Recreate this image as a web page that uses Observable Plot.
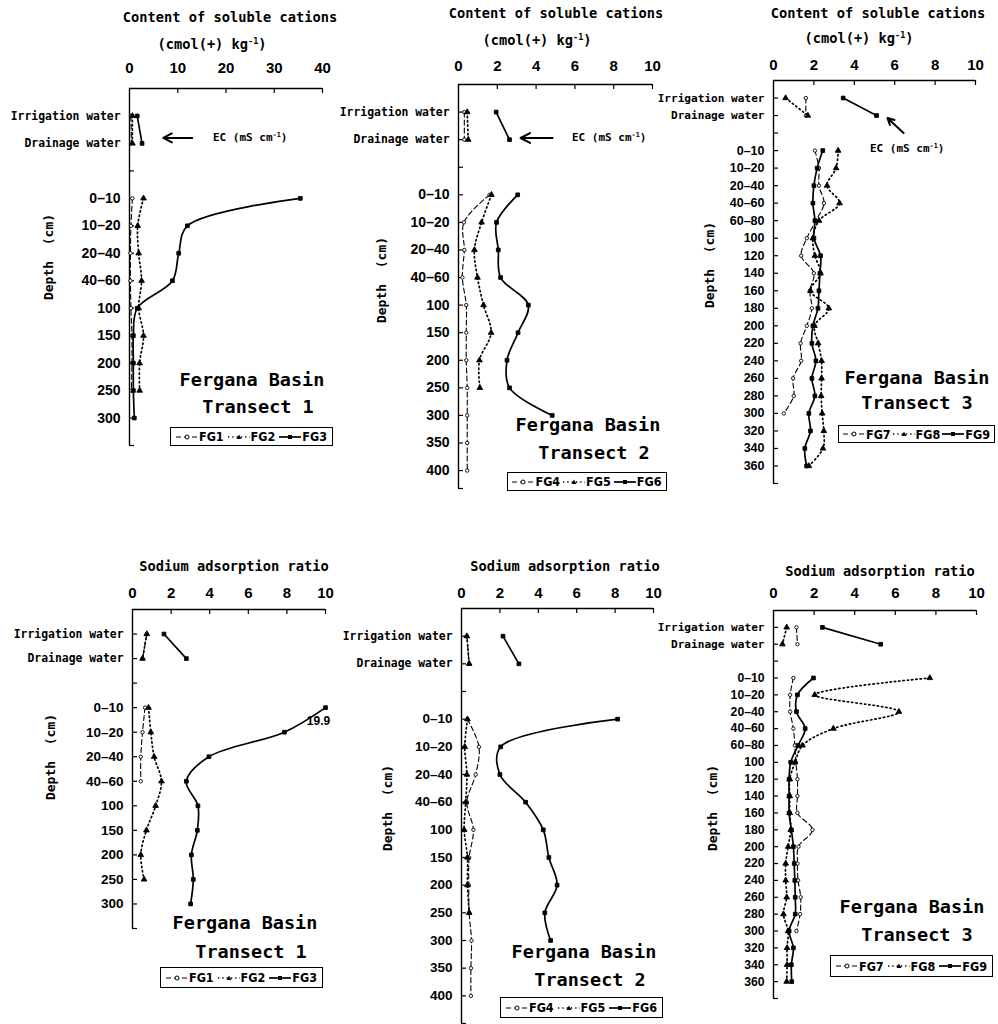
<!DOCTYPE html>
<html><head><meta charset="utf-8">
<script src="https://cdn.jsdelivr.net/npm/d3@7"></script>
<script src="https://cdn.jsdelivr.net/npm/@observablehq/plot@0.6"></script>
<style>
html,body{margin:0;padding:0;background:#fff;}
#page{position:relative;width:998px;height:1024px;overflow:hidden;background:#fff;color:#000;}
.t{position:absolute;white-space:nowrap;font-weight:bold;line-height:1;}
.t sup{font-size:0.62em;vertical-align:0;position:relative;top:-0.55em;}
.plotbox{position:absolute;}
.legend{position:absolute;box-sizing:border-box;border:1px solid #000;display:flex;align-items:center;justify-content:space-around;font-weight:bold;font-family:"DejaVu Sans Condensed","DejaVu Sans",sans-serif;font-size:12.5px;padding:0 3px;background:#fff;}
.legend span{display:flex;align-items:center;}
</style>
</head><body><div id="page"></div>
<script>
// ---------------- categories & tick labels ----------------
const waterRows = ["Irrigation water", "Drainage water"];
const depthT1 = ["0–10","10–20","20–40","40–60","100","150","200","250","300"];
const depthT2 = ["0–10","10–20","20–40","40–60","100","150","200","250","300","350","400"];
const depthT3 = ["0–10","10–20","20–40","40–60","60–80","100","120","140","160","180","200","220","240","260","280","300","320","340","360"];
const ticksT1Cations = [0,10,20,30,40];
const ticks0to10 = [0,2,4,6,8,10];

// ---------------- Content of soluble cations (cmol(+) kg-1); water rows = EC (mS cm-1) ----------------
// Transect 1
const catWaterFG1 = [0.3, 0.4];
const catWaterFG2 = [0.6, 0.6];
const catWaterFG3 = [1.6, 2.6];
const catFG1 = [0.6, 0.3, 0.2, 0.2, 0.3, 0.5, 0.5, 0.4, null];
const catFG2 = [2.9, 1.7, 1.9, 2.5, 1.9, 2.9, 2.1, 2.1, null];
const catFG3 = [35.4, 12.0, 10.2, 8.9, 1.6, 0.8, 0.8, 0.8, 1.0];
// Transect 2
const catWaterFG4 = [0.3, 0.3];
const catWaterFG5 = [0.45, 0.5];
const catWaterFG6 = [1.94, 2.63];
const catFG4 = [1.6, 0.28, 0.3, 0.2, 0.4, 0.4, 0.4, 0.45, 0.45, 0.45, 0.45];
const catFG5 = [1.7, 1.19, 0.82, 0.98, 1.29, 1.68, 1.08, 1.1, null, null, null];
const catFG6 = [3.05, 1.96, 2.05, 2.17, 3.6, 3.07, 2.5, 2.63, 4.83, null, null];
// Transect 3
const catWaterFG7 = [1.6, 1.6];
const catWaterFG8 = [0.6, 1.7];
const catWaterFG9 = [3.45, 5.1];
const catFG7 = [2.05, 2.25, 2.25, 2.5, 2.1, 1.65, 1.37, 2.0, 1.8, 1.9, 1.65, 1.34, 1.37, 0.97, 1.0, 0.51, null, null, null];
const catFG8 = [3.2, 3.1, 2.65, 3.27, 2.25, 1.95, 2.05, 2.33, 1.83, 2.74, 2.03, 2.21, 2.38, 2.38, 2.36, 2.41, 2.49, 2.45, 1.75];
const catFG9 = [2.44, 2.16, 2.0, 1.95, 2.05, 2.0, 2.33, 2.3, 2.25, 2.2, 1.95, 1.9, 2.1, 1.9, 2.05, 1.75, 1.83, 1.55, 1.64];

// ---------------- Sodium adsorption ratio ----------------
// Transect 1
const sarWaterFG1 = [0.74, 0.52];
const sarWaterFG2 = [0.74, 0.52];
const sarWaterFG3 = [1.63, 2.79];
const sarFG1 = [0.65, 0.52, 0.43, 0.43, null, null, null, null, null];
const sarFG2 = [0.83, 0.95, 1.12, 1.5, 1.2, 0.72, 0.43, 0.6, null];
const sarFG3 = [19.9, 7.87, 3.96, 2.79, 3.39, 3.36, 3.05, 3.15, 3.01];
// Transect 2
const sarWaterFG4 = [0.28, 0.4];
const sarWaterFG5 = [0.28, 0.4];
const sarWaterFG6 = [2.16, 2.99];
const sarFG4 = [0.31, 0.91, 0.74, 0.28, 0.62, 0.4, 0.38, 0.4, 0.52, 0.49, 0.49];
const sarFG5 = [0.31, 0.17, 0.28, 0.22, 0.14, 0.31, 0.31, 0.4, null, null, null];
const sarFG6 = [8.13, 2.04, 2.0, 3.34, 4.26, 4.55, 4.98, 4.34, 4.64, null, null];
// Transect 3
const sarWaterFG7 = [1.13, 1.18];
const sarWaterFG8 = [0.65, 0.44];
const sarWaterFG9 = [2.41, 5.28];
const sarFG7 = [0.98, 0.82, 0.82, 0.98, 1.05, 1.1, 1.18, 1.18, 1.18, 1.92, 1.23, 1.18, 1.21, 1.34, 1.31, 1.13, null, null, null];
const sarFG8 = [7.7, 2.03, 6.18, 2.95, 1.43, 1.06, 0.8, 0.8, 0.8, 0.85, 0.72, 0.6, 0.6, 0.65, 0.49, 0.72, 0.67, 0.67, 0.65];
const sarFG9 = [1.97, 1.18, 1.13, 1.56, 1.21, 0.85, 0.77, 0.77, 0.77, 0.88, 0.98, 1.02, 1.05, 1.07, 1.07, 0.77, 0.98, 0.88, 0.9];

// ---------------- styles ----------------
const styles = {
  dash:  {dash: "5,3", width: 1.1, symbol: "circle", fill: "white", r: 1.7},
  dot:   {dash: "1.3,3", width: 1.7, symbol: "triangle", fill: "black", r: 2.1},
  solid: {dash: null, width: 1.7, symbol: "square", fill: "black", r: 2.1}
};
const MONO = '"DejaVu Sans Mono", monospace';
const SANS = '"Liberation Sans", Arial, sans-serif';
const page = document.getElementById("page");

function txt(html, x, y, o = {}) {
  const d = document.createElement("div");
  d.className = "t";
  d.innerHTML = html;
  d.style.left = x + "px";
  d.style.top = y + "px";
  d.style.fontSize = (o.size || 13.7) + "px";
  d.style.fontFamily = o.family || MONO;
  const tx = o.anchor === "start" ? "0" : "-50%";
  d.style.transform = `translate(${tx},-50%)` + (o.rotate ? ` rotate(${o.rotate}deg)` : "");
  page.appendChild(d);
}

function swatch(k) {
  const s = styles[k];
  let m;
  if (s.symbol === "circle") m = `<circle cx="11" cy="5" r="2" fill="white" stroke="#000" stroke-width="1"/>`;
  else if (s.symbol === "triangle") m = `<path d="M11,2.5L13.5,7H8.5Z" fill="#000"/>`;
  else m = `<rect x="9" y="3" width="4" height="4" fill="#000"/>`;
  return `<svg width="22" height="10" style="margin-right:1px"><line x1="0" y1="5" x2="22" y2="5" stroke="#000" stroke-width="${s.width}" ${s.dash ? `stroke-dasharray="${s.dash}"` : ""}/>${m}</svg>`;
}

function legend(items, x1, y1, x2, y2) {
  const d = document.createElement("div");
  d.className = "legend";
  d.style.left = x1 + "px"; d.style.top = y1 + "px";
  d.style.width = (x2 - x1) + "px"; d.style.height = (y2 - y1) + "px";
  d.innerHTML = items.map(([name, k]) => `<span>${swatch(k)}${name}</span>`).join("");
  page.appendChild(d);
}

function panel(p) {
  const cats = [...waterRows, "", ...p.depths];
  const idx = new Map(cats.map((c, i) => [c, i]));
  const fw = p.right - p.left, fh = p.bottom - p.top;
  const ml = p.ml, mt = p.mt, mr = 14, mb = 4;
  const width = fw + ml + mr, height = fh + mt + mb;
  const water = [], soil = [];
  for (const s of p.series) {
    s.water.forEach((v, i) => { if (v != null) water.push({name: s.name, k: s.k, v, i: idx.get(waterRows[i])}); });
    s.soil.forEach((v, i) => { if (v != null) soil.push({name: s.name, k: s.k, v, i: idx.get(p.depths[i])}); });
  }
  const allTicks = d3.range(cats.length);
  const marks = [
    Plot.ruleX([0], {stroke: "#000", strokeWidth: 1.4}),
    Plot.ruleY([-1], {stroke: "#000", strokeWidth: 1.4}),
    Plot.tickY([...allTicks, p.yEnd], {y: d => d, insetRight: fw - 5, stroke: "#000", strokeWidth: 1.2}),
    Plot.tickX(p.xticks.slice(1), {x: d => d, insetBottom: fh - 5, stroke: "#000", strokeWidth: 1.2}),
    Plot.axisX({anchor: "top", ticks: p.xticks, tickSize: 0, tickPadding: p.xpad, tickFormat: d => String(d),
      fontSize: 15, fontWeight: "bold", fontFamily: SANS}),
    Plot.axisY({anchor: "left", ticks: [0, 1], tickFormat: i => cats[i], tickSize: 0, tickPadding: 9,
      fontSize: p.wfs, fontWeight: "bold", fontFamily: MONO}),
    Plot.axisY({anchor: "left", ticks: d3.range(3, cats.length), tickFormat: i => cats[i], tickSize: 0, tickPadding: 9,
      fontSize: p.dfs, fontWeight: "bold", fontFamily: SANS})
  ];
  for (const k of ["dash", "dot", "solid"]) {
    const s = styles[k];
    marks.push(Plot.line(soil.filter(d => d.k === k), {x: "v", y: "i", z: "name", curve: "catmull-rom",
      stroke: "#000", strokeWidth: s.width, strokeDasharray: s.dash}));
    marks.push(Plot.line(water.filter(d => d.k === k), {x: "v", y: "i", z: "name",
      stroke: "#000", strokeWidth: s.width, strokeDasharray: s.dash}));
    marks.push(Plot.dot([...soil, ...water].filter(d => d.k === k), {x: "v", y: "i", symbol: s.symbol, r: s.r,
      fill: s.fill, stroke: "#000", strokeWidth: 0.9}));
  }
  if (p.arrow) marks.push(Plot.arrow([p.arrow], {x1: "x1", y1: "y1", x2: "x2", y2: "y2", stroke: "#000",
    strokeWidth: 2, headLength: 9, headAngle: 55}));
  if (p.clampLabel) marks.push(Plot.text(soil.filter(d => d.v > p.xmax), {x: "v", y: "i", text: d => d.v.toFixed(1),
    dx: -7, dy: 14, fontSize: 12, fontWeight: "bold", fontFamily: SANS}));
  const chart = Plot.plot({
    width, height, marginLeft: ml, marginRight: mr, marginTop: mt, marginBottom: mb,
    style: {background: "transparent", overflow: "visible", color: "#000"},
    x: {domain: [0, p.xmax], clamp: true, label: null},
    y: {domain: [-1, p.yEnd], reverse: true, label: null},
    marks
  });
  const box = document.createElement("div");
  box.className = "plotbox";
  box.style.left = (p.left - ml) + "px";
  box.style.top = (p.top - mt) + "px";
  box.appendChild(chart);
  page.appendChild(box);
}

const units = "(cmol(+)&nbsp;kg<sup>-1</sup>)";
const ec = "EC&nbsp;(mS&nbsp;cm<sup>-1</sup>)";

// ---------- Panel 1 ----------
panel({left: 129, right: 322, top: 88, bottom: 445, yEnd: 12, xmax: 40, xticks: ticksT1Cations, xpad: 16,
  ml: 126, mt: 40, wfs: 11.4, dfs: 14, depths: depthT1,
  arrow: {x1: 13.0, x2: 7.0, y1: 0.8, y2: 0.8},
  series: [
    {name: "FG1", k: "dash", water: catWaterFG1, soil: catFG1},
    {name: "FG2", k: "dot", water: catWaterFG2, soil: catFG2},
    {name: "FG3", k: "solid", water: catWaterFG3, soil: catFG3}]});
// ---------- Panel 2 ----------
panel({left: 458, right: 652, top: 84, bottom: 488, yEnd: 13.65, xmax: 10, xticks: ticks0to10, xpad: 14,
  ml: 126, mt: 40, wfs: 11.4, dfs: 14, depths: depthT2,
  arrow: {x1: 4.85, x2: 3.2, y1: 0.94, y2: 0.94},
  series: [
    {name: "FG4", k: "dash", water: catWaterFG4, soil: catFG4},
    {name: "FG5", k: "dot", water: catWaterFG5, soil: catFG5},
    {name: "FG6", k: "solid", water: catWaterFG6, soil: catFG6}]});
// ---------- Panel 3 ----------
panel({left: 773, right: 975, top: 80, bottom: 483, yEnd: 22, xmax: 10, xticks: ticks0to10, xpad: 11,
  ml: 120, mt: 40, wfs: 11.1, dfs: 12.5, depths: depthT3,
  arrow: {x1: 6.44, x2: 5.64, y1: 2.0, y2: 1.14},
  series: [
    {name: "FG7", k: "dash", water: catWaterFG7, soil: catFG7},
    {name: "FG8", k: "dot", water: catWaterFG8, soil: catFG8},
    {name: "FG9", k: "solid", water: catWaterFG9, soil: catFG9}]});
// ---------- Panel 4 ----------
panel({left: 132, right: 325, top: 609, bottom: 928, yEnd: 12, xmax: 10, xticks: ticks0to10, xpad: 12,
  ml: 126, mt: 40, wfs: 11.4, dfs: 13.5, depths: depthT1, clampLabel: true,
  series: [
    {name: "FG1", k: "dash", water: sarWaterFG1, soil: sarFG1},
    {name: "FG2", k: "dot", water: sarWaterFG2, soil: sarFG2},
    {name: "FG3", k: "solid", water: sarWaterFG3, soil: sarFG3}]});
// ---------- Panel 5 ----------
panel({left: 461, right: 653, top: 608, bottom: 1023, yEnd: 14, xmax: 10, xticks: ticks0to10, xpad: 11,
  ml: 126, mt: 40, wfs: 11.4, dfs: 13.5, depths: depthT2,
  series: [
    {name: "FG4", k: "dash", water: sarWaterFG4, soil: sarFG4},
    {name: "FG5", k: "dot", water: sarWaterFG5, soil: sarFG5},
    {name: "FG6", k: "solid", water: sarWaterFG6, soil: sarFG6}]});
// ---------- Panel 6 ----------
panel({left: 773, right: 976, top: 610, bottom: 998, yEnd: 22, xmax: 10, xticks: ticks0to10, xpad: 13,
  ml: 120, mt: 40, wfs: 11.1, dfs: 12.2, depths: depthT3,
  series: [
    {name: "FG7", k: "dash", water: sarWaterFG7, soil: sarFG7},
    {name: "FG8", k: "dot", water: sarWaterFG8, soil: sarFG8},
    {name: "FG9", k: "solid", water: sarWaterFG9, soil: sarFG9}]});

// ---------- titles & annotations ----------
txt("Content of soluble cations", 230, 18);
txt(units, 212, 45);
txt("Content of soluble cations", 556, 14);
txt(units, 537, 41);
txt("Content of soluble cations", 878, 14);
txt(units, 859, 39);
txt("Sodium adsorption ratio", 234, 567);
txt("Sodium adsorption ratio", 565, 567);
txt("Sodium adsorption ratio", 880, 572);

txt(ec, 213, 137, {anchor: "start", size: 11});
txt(ec, 572, 137, {anchor: "start", size: 11});
txt(ec, 870, 148, {anchor: "start", size: 11});

txt("Depth&nbsp;&nbsp;(cm)", 48, 257, {rotate: -90, size: 13});
txt("Depth&nbsp;&nbsp;(cm)", 381, 280, {rotate: -90, size: 13});
txt("Depth&nbsp;&nbsp;(cm)", 709, 265, {rotate: -90, size: 13});
txt("Depth&nbsp;&nbsp;(cm)", 50, 757, {rotate: -90, size: 13});
txt("Depth&nbsp;&nbsp;(cm)", 387, 808, {rotate: -90, size: 13});
txt("Depth&nbsp;&nbsp;(cm)", 712, 808, {rotate: -90, size: 13});

const big = {size: 18.5};
txt("Fergana Basin", 252, 380, big); txt("Transect 1", 258, 407, big);
txt("Fergana Basin", 588, 425, big); txt("Transect 2", 594, 453, big);
txt("Fergana Basin", 917, 378, big); txt("Transect 3", 917, 403, big);
txt("Fergana Basin", 245, 923, big); txt("Transect 1", 251, 952, big);
txt("Fergana Basin", 584, 952, big); txt("Transect 2", 590, 980, big);
txt("Fergana Basin", 912, 907, big); txt("Transect 3", 917, 935, big);

legend([["FG1","dash"],["FG2","dot"],["FG3","solid"]], 170, 427, 333, 446);
legend([["FG4","dash"],["FG5","dot"],["FG6","solid"]], 507, 472, 667, 491);
legend([["FG7","dash"],["FG8","dot"],["FG9","solid"]], 838, 425, 995, 443);
legend([["FG1","dash"],["FG2","dot"],["FG3","solid"]], 160, 967, 323, 988);
legend([["FG4","dash"],["FG5","dot"],["FG6","solid"]], 500, 997, 663, 1018);
legend([["FG7","dash"],["FG8","dot"],["FG9","solid"]], 830, 955, 993, 977);
</script></body></html>
